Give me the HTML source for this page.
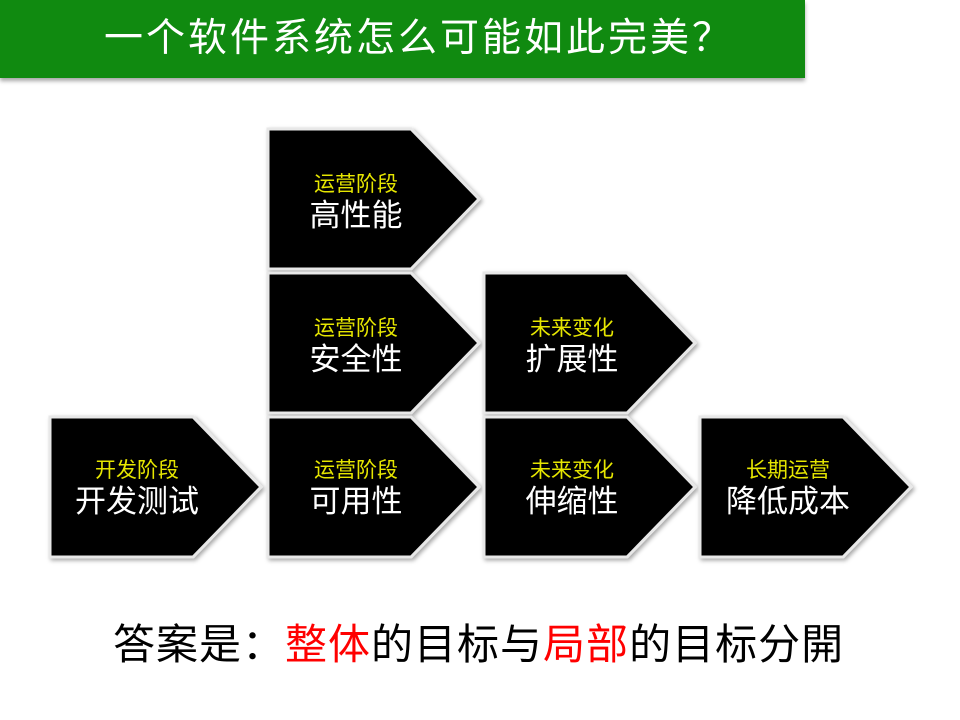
<!DOCTYPE html>
<html><head><meta charset="utf-8"><style>
html,body{margin:0;padding:0;background:#fff;}
body{width:960px;height:720px;position:relative;overflow:hidden;font-family:"Liberation Sans","Noto Sans CJK SC",sans-serif;}
#hdr{position:absolute;left:0;top:0;width:805px;height:78px;background:#108a10;box-shadow:0 3px 4px rgba(0,0,0,0.35);}
#hdr span{position:absolute;left:104px;top:15px;font-size:39px;line-height:48px;color:#fff;letter-spacing:3px;white-space:nowrap;}
#ans{position:absolute;left:113px;top:618px;font-size:42px;line-height:54px;color:#000;white-space:nowrap;letter-spacing:1px;}
#ans .r{color:#f00;}
</style></head><body>
<div id="hdr"><span>一个软件系统怎么可能如此完美？</span></div>
<svg width="960" height="720" style="position:absolute;left:0;top:0" font-family="Liberation Sans, Noto Sans CJK SC, sans-serif">
<defs><filter id="sh" x="-10%" y="-10%" width="130%" height="130%"><feDropShadow dx="2" dy="2" stdDeviation="2" flood-color="#000" flood-opacity="0.35"/></filter>
<g id="p"><polygon points="0,0 143,0 211,70 143,140 0,140" fill="#000" stroke="#e8e8e8" stroke-width="3" filter="url(#sh)"/></g></defs>
<g font-size="21" fill="#e6e600" text-anchor="middle">
</g>
<g transform="translate(268,129)"><use href="#p"/><text x="88" y="62" fill="#e6e600" font-size="21" text-anchor="middle">运营阶段</text><text x="88" y="97" fill="#fff" font-size="31" text-anchor="middle">高性能</text></g>
<g transform="translate(268,273)"><use href="#p"/><text x="88" y="62" fill="#e6e600" font-size="21" text-anchor="middle">运营阶段</text><text x="88" y="97" fill="#fff" font-size="31" text-anchor="middle">安全性</text></g>
<g transform="translate(484,273)"><use href="#p"/><text x="88" y="62" fill="#e6e600" font-size="21" text-anchor="middle">未来变化</text><text x="88" y="97" fill="#fff" font-size="31" text-anchor="middle">扩展性</text></g>
<g transform="translate(50,417)"><use href="#p"/><text x="87" y="60" fill="#e6e600" font-size="21" text-anchor="middle">开发阶段</text><text x="87" y="95" fill="#fff" font-size="31" text-anchor="middle">开发测试</text></g>
<g transform="translate(268,417)"><use href="#p"/><text x="88" y="60" fill="#e6e600" font-size="21" text-anchor="middle">运营阶段</text><text x="88" y="95" fill="#fff" font-size="31" text-anchor="middle">可用性</text></g>
<g transform="translate(484,417)"><use href="#p"/><text x="88" y="60" fill="#e6e600" font-size="21" text-anchor="middle">未来变化</text><text x="88" y="95" fill="#fff" font-size="31" text-anchor="middle">伸缩性</text></g>
<g transform="translate(700,417)"><use href="#p"/><text x="88" y="60" fill="#e6e600" font-size="21" text-anchor="middle">长期运营</text><text x="88" y="95" fill="#fff" font-size="31" text-anchor="middle">降低成本</text></g>
</svg>
<div id="ans">答案是：<span class="r">整体</span>的目标与<span class="r">局部</span>的目标分開</div>
</body></html>
